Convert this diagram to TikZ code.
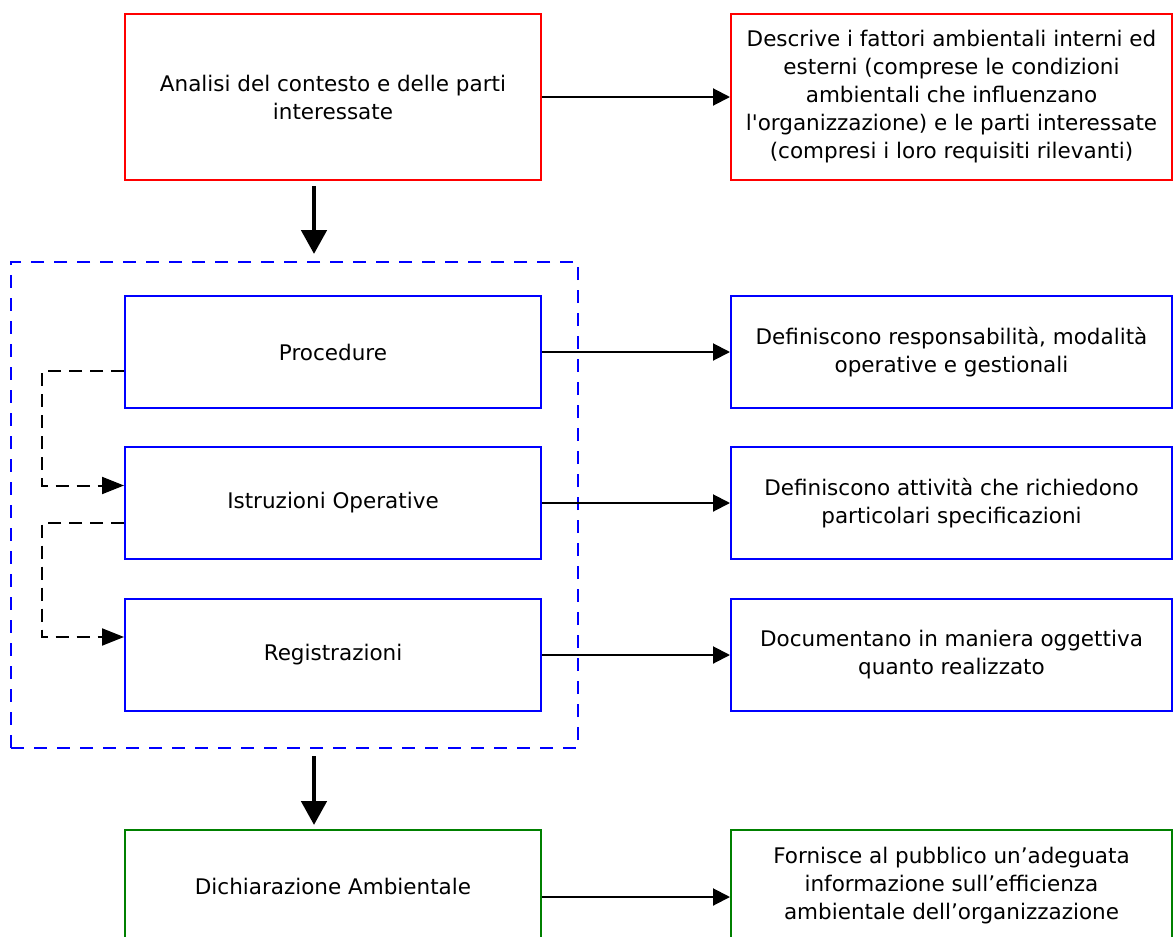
\documentclass[tikz,border=0pt]{standalone}
\usepackage{fontspec}
\newfontfamily\boxfont{DejaVu Sans}
\usepackage{tikz}
\usetikzlibrary{positioning, arrows.meta}
\definecolor{boxred}{RGB}{255,0,0}
\definecolor{boxblue}{RGB}{0,0,255}
\definecolor{boxgreen}{RGB}{0,128,0}
\tikzset{
  blk/.style={rectangle, draw, line width=1pt, align=center,
              minimum width=208pt, minimum height=56pt, inner sep=2pt,
              font=\boxfont\fontsize{10.75pt}{14pt}\selectfont},
  desc/.style={blk, minimum width=220.5pt},
  grp/.style={rectangle, draw=boxblue, line width=1pt, dash pattern=on 6.5pt off 5pt},
  arr/.style={-{Triangle[length=8.5pt,width=8.5pt]}, line width=1pt},
  darr/.style={-{Triangle[length=11pt,width=8.5pt]}, line width=1pt, dash pattern=on 6.5pt off 4pt},
  bigarr/.style={-{Triangle[length=12pt,width=12.5pt]}, line width=2.4pt},
}

\begin{document}
\begin{tikzpicture}[node distance=18.5pt and 94pt]
  \useasboundingbox (0,0) rectangle (586.5pt,-468.5pt);
  % dashed frame round the documents
  \node[grp, minimum width=283.5pt, minimum height=243pt] (sgq) at (147.25pt,-252.5pt) {};
  % left column
  \node[blk, draw=boxred, minimum height=83pt] (analisi) at (166.5pt,-48.5pt) {Analisi del contesto e delle parti\\interessate};
  \node[blk, draw=boxblue, below=57pt of analisi] (proc) {Procedure};
  \node[blk, draw=boxblue, below=of proc] (istr) {Istruzioni Operative};
  \node[blk, draw=boxblue, below=19pt of istr] (reg) {Registrazioni};
  \node[blk, draw=boxgreen, below=58.5pt of reg] (dich) {Dichiarazione Ambientale};
  % right column
  \node[desc, draw=boxred, minimum height=83pt, right=of analisi] (fattori) {Descrive i fattori ambientali interni ed\\esterni (comprese le condizioni\\ambientali che influenzano\\l'organizzazione) e le parti interessate\\(compresi i loro requisiti rilevanti)};
  \node[desc, draw=boxblue, right=of proc] (resp) {Definiscono responsabilità, modalità\\operative e gestionali};
  \node[desc, draw=boxblue, right=of istr] (spec) {Definiscono attività che richiedono\\particolari specificazioni};
  \node[desc, draw=boxblue, right=of reg] (ogg) {Documentano in maniera oggettiva\\quanto realizzato};
  \node[desc, draw=boxgreen, right=of dich] (pubb) {Fornisce al pubblico un’adeguata\\informazione sull’efficienza\\ambientale dell’organizzazione};
  % connectors
  \draw[arr] (analisi) -- (fattori);
  \draw[arr] (proc) -- (resp);
  \draw[arr] (istr) -- (spec);
  \draw[arr] (reg) -- (ogg);
  \draw[arr] ([yshift=-5.5pt]dich.east) -- ([yshift=-5.5pt]pubb.west);
  \draw[bigarr] ([xshift=-9.5pt,yshift=-2.5pt]analisi.south) -- ([xshift=9.75pt,yshift=3.5pt]sgq.north);
  \draw[bigarr] ([xshift=9.75pt,yshift=-3.5pt]sgq.south) -- ([xshift=-9.5pt,yshift=2pt]dich.north);
  \draw[darr] ([yshift=-9.5pt]proc.west) -- ++(-41pt,0) |- ([yshift=8.75pt]istr.west);
  \draw[darr] ([yshift=-9.75pt]istr.west) -- ++(-41pt,0) |- ([yshift=9pt]reg.west);
\end{tikzpicture}
\end{document}
